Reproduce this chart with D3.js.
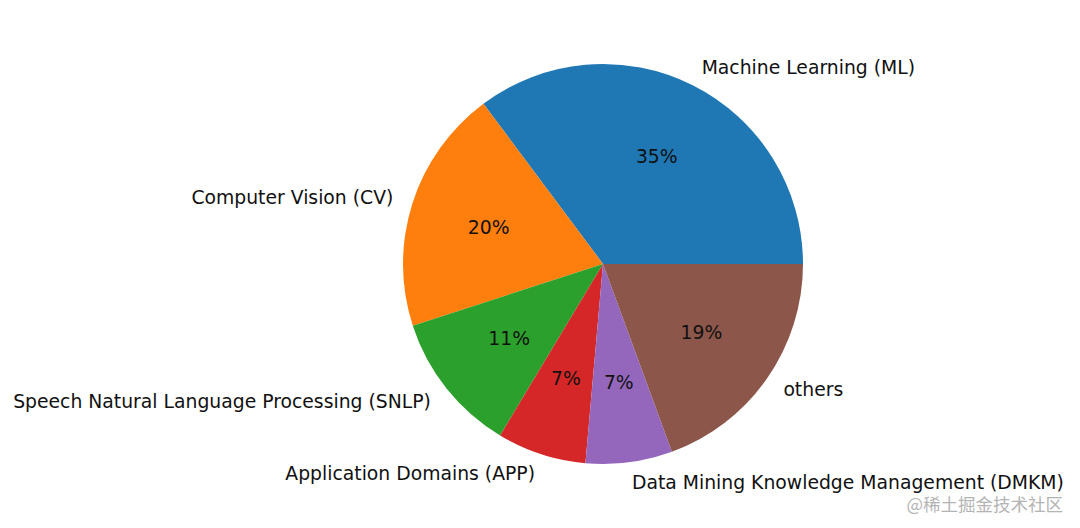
<!DOCTYPE html>
<html><head><meta charset="utf-8">
<script src="https://cdn.jsdelivr.net/npm/d3@7"></script>
<style>html,body{margin:0;padding:0;background:#fff;}svg{display:block;}</style>
</head><body>
<script>
const categories = ["Machine Learning (ML)", "Computer Vision (CV)", "Speech Natural Language Processing (SNLP)", "Application Domains (APP)", "Data Mining Knowledge Management (DMKM)", "others"];
const values = [35.2, 19.8, 11.4, 7.2, 7.0, 19.4];
const colors = ["#1f77b4", "#ff7f0e", "#2ca02c", "#d62728", "#9467bd", "#8c564b"];

const W = 1080, H = 528;
const cx = 603, cy = 264, R = 200;
const svg = d3.select("body").append("svg").attr("width", W).attr("height", H);

const total = d3.sum(values);
const angle = d3.scaleLinear().domain([0, total]).range([0, 2 * Math.PI]);
let cum = 0;
const slices = values.map((v, i) => {
  const a0 = angle(cum); cum += v; const a1 = angle(cum);
  return {i, v, a0, a1};
});
const toD3 = a => Math.PI / 2 - a;
const arc = d3.arc().innerRadius(0).outerRadius(R);
const g = svg.append("g").attr("transform", `translate(${cx},${cy})`);
g.selectAll("path").data(slices).join("path")
  .attr("d", d => arc({startAngle: toD3(d.a1), endAngle: toD3(d.a0)}))
  .attr("fill", d => colors[d.i]);

const font = "DejaVu Sans";
const fs = 18.8;
g.selectAll("text.lab").data(slices).join("text").attr("class", "lab")
  .attr("x", d => 1.1 * R * Math.cos((d.a0 + d.a1) / 2))
  .attr("y", d => -1.1 * R * Math.sin((d.a0 + d.a1) / 2))
  .attr("text-anchor", d => Math.cos((d.a0 + d.a1) / 2) > 0 ? "start" : "end")
  .attr("dominant-baseline", "central")
  .attr("font-family", font).attr("font-size", fs).attr("fill", "#111")
  .text(d => categories[d.i]);

g.selectAll("text.pct").data(slices).join("text").attr("class", "pct")
  .attr("x", d => 0.6 * R * Math.cos((d.a0 + d.a1) / 2))
  .attr("y", d => -0.6 * R * Math.sin((d.a0 + d.a1) / 2))
  .attr("text-anchor", "middle")
  .attr("dominant-baseline", "central")
  .attr("font-family", font).attr("font-size", fs).attr("fill", "#111")
  .text(d => d3.format(".0f")(d.v / total * 100) + "%");

svg.append("text").attr("x", 1063).attr("y", 503).attr("text-anchor", "end")
  .attr("dominant-baseline", "central")
  .attr("font-family", "Noto Sans CJK SC").attr("font-size", 17.5).attr("fill", "#b4b4b4")
  .text("@稀土掘金技术社区");
</script>
</body></html>
